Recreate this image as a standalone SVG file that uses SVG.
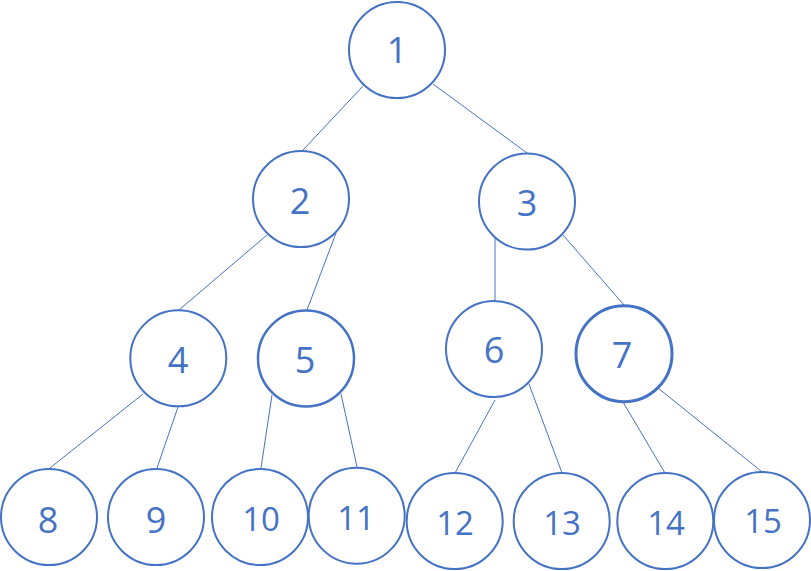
<svg xmlns="http://www.w3.org/2000/svg" width="811" height="571" viewBox="0 0 811 571">
<style>
.n{fill:#fff;stroke:#4472C4;stroke-width:2}
.t{fill:#4472C4;font-family:"Open Sans","Noto Sans",sans-serif;text-anchor:middle;font-size:36px}
.s{font-size:33px}
.e{stroke:#4472C4;stroke-width:1;fill:none}
</style>
<rect width="811" height="571" fill="#fff"/>
<g id="edges">
<line class="e" x1="363" y1="86" x2="303" y2="150"/>
<line class="e" x1="433" y1="84" x2="527" y2="153"/>
<line class="e" x1="267" y1="235" x2="179" y2="310"/>
<line class="e" x1="336" y1="233" x2="307" y2="310"/>
<line class="e" x1="495" y1="238" x2="495" y2="301"/>
<line class="e" x1="563" y1="235" x2="624" y2="305"/>
<line class="e" x1="143" y1="394" x2="50" y2="468"/>
<line class="e" x1="178" y1="407" x2="157" y2="468"/>
<line class="e" x1="272" y1="395" x2="261" y2="468"/>
<line class="e" x1="341" y1="394" x2="357" y2="467"/>
<line class="e" x1="495" y1="400" x2="455" y2="473"/>
<line class="e" x1="529" y1="384" x2="562" y2="473"/>
<line class="e" x1="623" y1="402" x2="665" y2="473"/>
<line class="e" x1="658" y1="388" x2="761" y2="471"/>
</g>
<g id="n1"><circle class="n" cx="397" cy="50" r="48"/><text class="t" x="397" y="63">1</text></g>
<g id="n2"><circle class="n" cx="301" cy="199" r="48"/><text class="t" x="300" y="214">2</text></g>
<g id="n3"><circle class="n" cx="527" cy="201.5" r="48"/><text class="t" x="527" y="216">3</text></g>
<g id="n4"><circle class="n" cx="178.3" cy="358.3" r="48"/><text class="t" x="178" y="373">4</text></g>
<g id="n5"><circle class="n" cx="306" cy="358.5" r="48" style="stroke-width:2.5"/><text class="t" x="305" y="373">5</text></g>
<g id="n6"><circle class="n" cx="494" cy="349" r="48"/><text class="t" x="494" y="363">6</text></g>
<g id="n7"><circle class="n" cx="624" cy="353.7" r="48" style="stroke-width:3"/><text class="t" x="622" y="368">7</text></g>
<g id="n8"><circle class="n" cx="49" cy="517" r="48"/><text class="t" x="48" y="532.5">8</text></g>
<g id="n9"><circle class="n" cx="156" cy="517" r="48"/><text class="t" x="156" y="532.5">9</text></g>
<g id="n10"><circle class="n" cx="260" cy="517" r="48"/><text class="t s" x="261" y="530.5">10</text></g>
<g id="n11"><circle class="n" cx="356.7" cy="515.7" r="48"/><text class="t s" x="356" y="530">11</text></g>
<g id="n12"><circle class="n" cx="454.7" cy="521" r="48"/><text class="t s" x="455" y="535">12</text></g>
<g id="n13"><circle class="n" cx="561.7" cy="521" r="48"/><text class="t s" x="562" y="535">13</text></g>
<g id="n14"><circle class="n" cx="665.3" cy="521" r="48"/><text class="t s" x="666" y="535">14</text></g>
<g id="n15"><circle class="n" cx="762" cy="520" r="48"/><text class="t s" x="763" y="532.5">15</text></g>
</svg>
